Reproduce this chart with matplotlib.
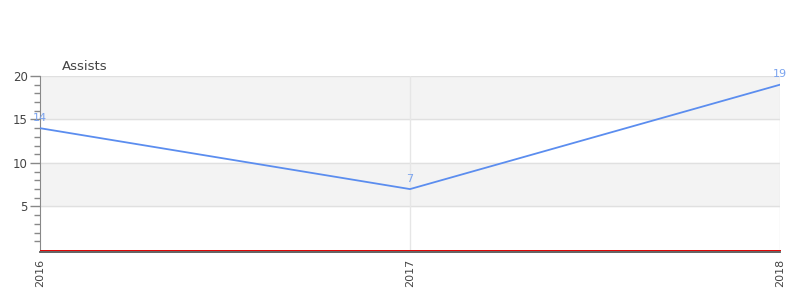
import matplotlib.pyplot as plt

years = ['2016', '2017', '2018']
assists = [14, 7, 19]

y_ticks = [5, 10, 15, 20]
bands = [(5, 10), (15, 20)]

line_color = '#5b8def'
label_color = '#7aa3ee'
text_color = '#444444'


def graph():
    fig = plt.figure(figsize=(8, 3), dpi=100)
    ax = fig.add_axes([0.05, 0.1667, 0.925, 0.58])

    x = list(range(len(years)))

    # alternating grey bands behind the grid
    for lo, hi in bands:
        ax.axhspan(lo, hi, color='#f3f3f3', zorder=0)
    for y in y_ticks:
        ax.axhline(y, color='#e0e0e0', linewidth=1, zorder=1)
    for xi in x[1:]:
        ax.axvline(xi, color='#e6e6e6', linewidth=1, zorder=1)

    ax.plot(x, assists, color=line_color, linewidth=1.3, zorder=3)
    ax.axhline(0, color='#e00000', linewidth=0.7, zorder=4, clip_on=False)

    for xi, v in zip(x, assists):
        ax.annotate(str(v), xy=(xi, v), xytext=(0, 4), textcoords='offset points',
                    ha='center', va='bottom', fontsize=8, color=label_color)

    ax.set_xlim(0, len(years) - 1)
    ax.set_ylim(0, 20)
    ax.set_xticks(x, labels=years)
    ax.tick_params(axis='x', length=0, pad=5, labelrotation=90, labelsize=8,
                   labelcolor=text_color)

    ax.set_yticks(y_ticks)
    ax.set_yticks(range(1, 20), minor=True)
    ax.tick_params(axis='y', which='major', length=7, width=1, color='#888888',
                   labelsize=8.5, labelcolor=text_color, pad=2)
    ax.tick_params(axis='y', which='minor', length=4, width=1, color='#888888')

    for side in ['top', 'right']:
        ax.spines[side].set_visible(False)
    ax.spines['left'].set_color('#888888')
    ax.spines['bottom'].set_color('#555555')
    ax.spines['bottom'].set_linewidth(1.3)
    ax.spines['bottom'].set_position(('outward', 1.5))

    fig.text(62 / 800, 1 - 66 / 300, 'Assists', fontsize=9.5, color=text_color,
             ha='left', va='center')

    fig.savefig('out.png', dpi=100)


if __name__ == '__main__':
    graph()
